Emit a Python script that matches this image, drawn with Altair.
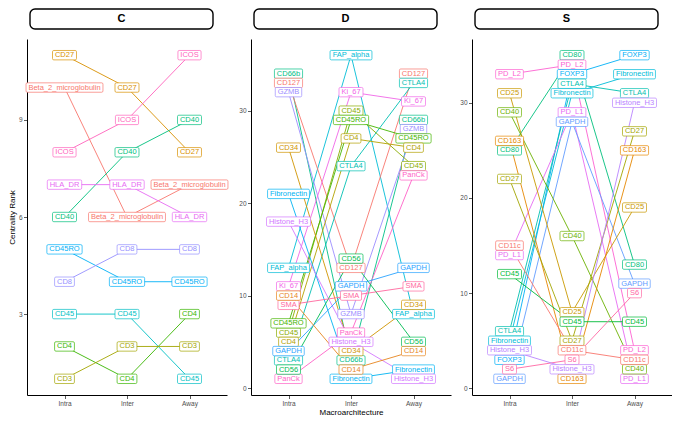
import math
import altair as alt
import pandas as pd

COLS = ["Intra", "Inter", "Away"]

# ---- Panel C ----
C_markers = ["CD27", "ICOS", "Beta_2_microglobulin", "CD40", "HLA_DR",
             "CD45RO", "CD8", "CD45", "CD4", "CD3"]
C_intra = [11, 8, 10, 6, 7, 5, 4, 3, 2, 1]
C_inter = [10, 9, 6, 8, 7, 4, 5, 3, 1, 2]
C_away = [8, 11, 7, 9, 6, 4, 5, 1, 3, 2]

# ---- Panel D ----
D_markers = ["FAP_alpha", "CD66b", "CD127", "GZMB", "Ki_67", "CTLA4", "CD45",
             "CD45RO", "CD4", "CD34", "PanCk", "Fibronectin", "Histone_H3",
             "CD56", "GAPDH", "SMA", "CD14"]
D_intra = [13, 34, 33, 32, 11, 3, 6, 7, 5, 26, 1, 21, 18, 2, 4, 9, 10]
D_inter = [36, 3, 13, 8, 32, 24, 30, 29, 27, 4, 6, 1, 5, 14, 11, 10, 2]
D_away = [8, 29, 34, 28, 31, 33, 24, 27, 26, 9, 23, 2, 1, 5, 13, 11, 4]

# ---- Panel S ----
S_markers = ["CD80", "PD_L2", "FOXP3", "CTLA4", "Fibronectin", "PD_L1",
             "GAPDH", "CD25", "CD40", "CD163", "CD27", "CD11c", "CD45", "S6",
             "Histone_H3"]
S_intra = [25, 33, 3, 6, 5, 14, 1, 31, 29, 26, 22, 15, 12, 2, 4]
S_inter = [35, 34, 33, 32, 31, 29, 28, 8, 16, 1, 5, 4, 7, 3, 2]
S_away = [13, 4, 35, 31, 33, 1, 11, 19, 2, 25, 27, 3, 7, 10, 30]

Y_TICKS = {"C": [3, 6, 9], "D": [0, 10, 20, 30], "S": [0, 10, 20, 30]}

FONT = "Liberation Sans"
FS = 7.5

# Arial/Helvetica glyph widths (per 1000 em)
WID = {c: 556 for c in "0123456789_abdeghnopqu"}
WID.update({"c": 500, "k": 500, "s": 500, "v": 500, "x": 500, "y": 500, "z": 500,
            "f": 278, "t": 278, "i": 222, "j": 222, "l": 222, "r": 333, "m": 833,
            "w": 722, "A": 667, "B": 667, "C": 722, "D": 722, "E": 667, "F": 611,
            "G": 778, "H": 722, "I": 278, "K": 667, "L": 556, "M": 833, "N": 722,
            "O": 778, "P": 667, "R": 722, "S": 667, "T": 611, "X": 667, "Z": 611})


def text_w(s):
    return sum(WID.get(ch, 556) for ch in s) / 1000 * FS


def box_path(s):
    hw = text_w(s) / 2 + 2.4
    hh = 4.7
    r = 1.3
    f = lambda v: f"{v:.2f}"
    return (f"M{f(-hw + r)},{f(-hh)}H{f(hw - r)}Q{f(hw)},{f(-hh)},{f(hw)},{f(-hh + r)}"
            f"V{f(hh - r)}Q{f(hw)},{f(hh)},{f(hw - r)},{f(hh)}H{f(-hw + r)}"
            f"Q{f(-hw)},{f(hh)},{f(-hw)},{f(hh - r)}V{f(-hh + r)}"
            f"Q{f(-hw)},{f(-hh)},{f(-hw + r)},{f(-hh)}Z")


def hcl_hex(h, c=100.0, l=65.0):
    hr = math.radians(h)
    u, v = c * math.cos(hr), c * math.sin(hr)
    Xn, Yn, Zn = 95.047, 100.0, 108.883
    Y = Yn * ((l + 16) / 116) ** 3
    den = Xn + 15 * Yn + 3 * Zn
    un, vn = 4 * Xn / den, 9 * Yn / den
    up, vp = u / (13 * l) + un, v / (13 * l) + vn
    X = Y * 9 * up / (4 * vp)
    Z = Y * (12 - 3 * up - 20 * vp) / (4 * vp)
    X, Y, Z = X / 100, Y / 100, Z / 100
    rgb = [3.2404542 * X - 1.5371385 * Y - 0.4985314 * Z,
           -0.9692660 * X + 1.8760108 * Y + 0.0415560 * Z,
           0.0556434 * X - 0.2040259 * Y + 1.0572252 * Z]
    out = []
    for ch in rgb:
        ch = 12.92 * ch if ch <= 0.0031308 else 1.055 * ch ** (1 / 2.4) - 0.055
        out.append(max(0, min(255, round(ch * 255))))
    return "#%02X%02X%02X" % tuple(out)


def hue_pal(n):
    return [hcl_hex(15 + 360 * i / n) for i in range(n)]


W = 200
H = 356


def make_panel(name, markers, intra, inter, away, first, middle):
    rows = []
    for m, a, b, c in zip(markers, intra, inter, away):
        for k, (col, val) in enumerate(zip(COLS, (a, b, c))):
            rows.append({"marker": m, "loc": col, "ord": k, "rank": val,
                         "path": box_path(m)})
    df = pd.DataFrame(rows)
    allv = intra + inter + away
    lo, hi = min(allv), max(allv)
    ex = (hi - lo) * 0.05
    dom = sorted(markers, key=str.lower)
    cscale = alt.Scale(domain=dom, range=hue_pal(len(dom)))

    xaxis = alt.Axis(title="Macroarchitecture" if middle else None, labelAngle=0)
    yaxis = alt.Axis(title="Centrality Rank" if first else None, values=Y_TICKS[name])
    x = alt.X("loc:N", sort=COLS, scale=alt.Scale(type="point", padding=0.6, domain=COLS), axis=xaxis)
    y = alt.Y("rank:Q", scale=alt.Scale(domain=[lo - ex, hi + ex], nice=False, zero=False), axis=yaxis)

    base = alt.Chart(df)
    lines = base.mark_line(strokeWidth=0.9).encode(
        x=x, y=y, color=alt.Color("marker:N", scale=cscale, legend=None),
        detail="marker:N", order="ord:Q")
    boxes = base.mark_point(filled=True, fill="white", size=4, strokeWidth=0.7, opacity=1).encode(
        x=x, y=y, shape=alt.Shape("path:N", scale=None),
        stroke=alt.Stroke("marker:N", scale=cscale, legend=None))
    texts = base.mark_text(font=FONT, fontSize=FS, baseline="middle", align="center").encode(
        x=x, y=y, text="marker:N", color=alt.Color("marker:N", scale=cscale, legend=None))

    hdr = alt.Chart(alt.Data(values=[{"panel": name}]))
    hbox = hdr.mark_rect(fill="white", stroke="black", strokeWidth=1.4, cornerRadius=5).encode(
        x=alt.value(3), x2=alt.value(186), y=alt.value(-30), y2=alt.value(-10))
    htext = hdr.mark_text(font=FONT, fontSize=11, fontWeight="bold", color="black",
                          baseline="middle", align="center").encode(
        x=alt.value(94.5), y=alt.value(-20), text="panel:N")

    return alt.layer(lines, boxes, texts, hbox, htext).properties(width=W, height=H)


pC = make_panel("C", C_markers, C_intra, C_inter, C_away, True, False)
pD = make_panel("D", D_markers, D_intra, D_inter, D_away, False, True)
pS = make_panel("S", S_markers, S_intra, S_inter, S_away, False, False)

chart = alt.hconcat(pC, pD, pS, spacing=8).resolve_scale(
    color="independent", stroke="independent", shape="independent"
).properties(
    padding={"left": 0, "top": 0, "right": 0, "bottom": 0}
).configure_view(strokeWidth=0).configure_axis(
    grid=False, domainColor="black", domainWidth=1, tickColor="#333333", tickSize=3.5,
    tickWidth=0.8, labelFont=FONT, labelFontSize=6.5, labelColor="#4D4D4D", labelPadding=1.5,
    titleFont=FONT, titleFontSize=8, titleFontWeight="normal", titleColor="black",
    titlePadding=2
)

chart.save("out.html", embed_options={"renderer": "svg", "actions": False})
